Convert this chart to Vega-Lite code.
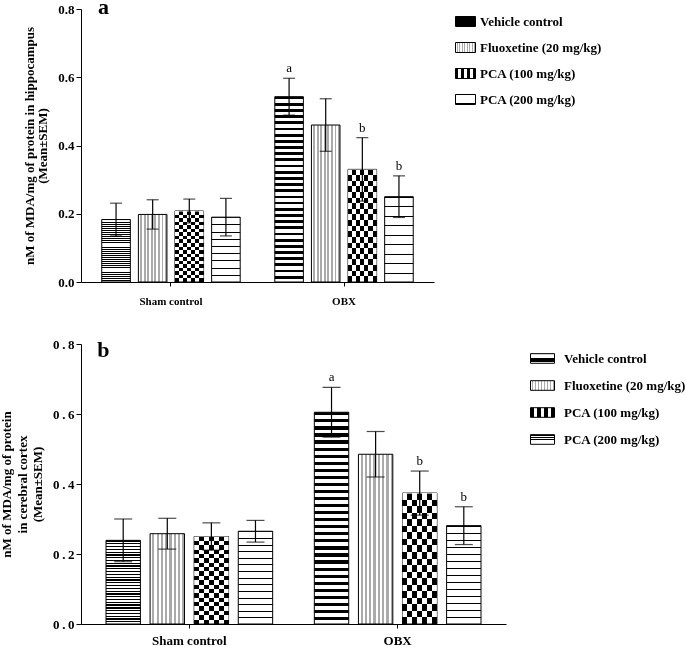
{
  "$schema": "https://vega.github.io/schema/vega-lite/v6.json",
  "padding": {"left": 0, "top": -4, "right": 0, "bottom": 0},
  "background": "white",
  "config": {"view": {"stroke": null}, "font": "Liberation Serif"},
  "datasets": {
    "a": [
      {"group": "Sham control", "trt": "Vehicle control", "mean": 0.183, "lo": 0.135, "hi": 0.231, "sig": ""},
      {"group": "Sham control", "trt": "Fluoxetine (20 mg/kg)", "mean": 0.198, "lo": 0.155, "hi": 0.241, "sig": ""},
      {"group": "Sham control", "trt": "PCA (100 mg/kg)", "mean": 0.208, "lo": 0.173, "hi": 0.243, "sig": ""},
      {"group": "Sham control", "trt": "PCA (200 mg/kg)", "mean": 0.190, "lo": 0.135, "hi": 0.245, "sig": ""},
      {"group": "OBX", "trt": "Vehicle control", "mean": 0.543, "lo": 0.489, "hi": 0.597, "sig": "a"},
      {"group": "OBX", "trt": "Fluoxetine (20 mg/kg)", "mean": 0.460, "lo": 0.383, "hi": 0.537, "sig": ""},
      {"group": "OBX", "trt": "PCA (100 mg/kg)", "mean": 0.330, "lo": 0.237, "hi": 0.423, "sig": "b"},
      {"group": "OBX", "trt": "PCA (200 mg/kg)", "mean": 0.250, "lo": 0.189, "hi": 0.311, "sig": "b"}
    ],
    "b": [
      {"group": "Sham control", "trt": "Vehicle control", "mean": 0.239, "lo": 0.178, "hi": 0.300, "sig": ""},
      {"group": "Sham control", "trt": "Fluoxetine (20 mg/kg)", "mean": 0.258, "lo": 0.214, "hi": 0.302, "sig": ""},
      {"group": "Sham control", "trt": "PCA (100 mg/kg)", "mean": 0.250, "lo": 0.211, "hi": 0.289, "sig": ""},
      {"group": "Sham control", "trt": "PCA (200 mg/kg)", "mean": 0.265, "lo": 0.234, "hi": 0.296, "sig": ""},
      {"group": "OBX", "trt": "Vehicle control", "mean": 0.605, "lo": 0.534, "hi": 0.676, "sig": "a"},
      {"group": "OBX", "trt": "Fluoxetine (20 mg/kg)", "mean": 0.485, "lo": 0.420, "hi": 0.550, "sig": ""},
      {"group": "OBX", "trt": "PCA (100 mg/kg)", "mean": 0.374, "lo": 0.311, "hi": 0.437, "sig": "b"},
      {"group": "OBX", "trt": "PCA (200 mg/kg)", "mean": 0.281, "lo": 0.227, "hi": 0.335, "sig": "b"}
    ]
  },
  "vconcat": [
    {
      "data": {"name": "a"},
      "width": 353,
      "height": 273,
      "encoding": {
        "x": {"field": "group", "type": "nominal", "scale": {"domain": ["Sham control", "OBX"], "paddingInner": 0.2, "paddingOuter": 0.12},
          "axis": {"title": null, "labelAngle": 0, "labelFont": "Liberation Serif", "labelFontWeight": "bold", "labelFontSize": 11, "labelColor": "black", "tickSize": 4, "labelPadding": 9, "domainColor": "black", "tickColor": "black"}},
        "xOffset": {"field": "trt", "type": "nominal", "scale": {"domain": ["Vehicle control", "Fluoxetine (20 mg/kg)", "PCA (100 mg/kg)", "PCA (200 mg/kg)"], "paddingInner": 0.22}},
        "y": {"field": "mean", "type": "quantitative", "scale": {"domain": [0, 0.8], "nice": false},
          "axis": {"title": ["nM of MDA/mg of protein in hippocampus", "(Mean±SEM)"], "titleFont": "Liberation Serif", "titleFontWeight": "bold", "titleFontSize": 13, "titleLineHeight": 13, "titlePadding": 8, "titleColor": "black",
            "values": [0, 0.2, 0.4, 0.6, 0.8], "format": ".1f", "labelFont": "Liberation Serif", "labelFontWeight": "bold", "labelFontSize": 13, "labelColor": "black", "tickSize": 5, "labelPadding": 2, "grid": false, "domainColor": "black", "tickColor": "black"}}
      },
      "layer": [
        {
          "mark": {"type": "bar", "stroke": "black", "strokeWidth": 1},
          "encoding": {
            "fill": {"field": "trt", "type": "nominal",
              "scale": {"domain": ["Vehicle control", "Fluoxetine (20 mg/kg)", "PCA (100 mg/kg)", "PCA (200 mg/kg)"],
                "range": [
                  {"expr": "{gradient:'linear',x1:0,y1:0,x2:0,y2:1,stops:[{offset:0,color:'#000'},{offset:0.015,color:'#000'},{offset:0.015,color:'#fff'},{offset:0.0333,color:'#fff'},{offset:0.0333,color:'#000'},{offset:0.0483,color:'#000'},{offset:0.0483,color:'#fff'},{offset:0.0667,color:'#fff'},{offset:0.0667,color:'#000'},{offset:0.0817,color:'#000'},{offset:0.0817,color:'#fff'},{offset:0.1,color:'#fff'},{offset:0.1,color:'#000'},{offset:0.115,color:'#000'},{offset:0.115,color:'#fff'},{offset:0.1333,color:'#fff'},{offset:0.1333,color:'#000'},{offset:0.1483,color:'#000'},{offset:0.1483,color:'#fff'},{offset:0.1667,color:'#fff'},{offset:0.1667,color:'#000'},{offset:0.1817,color:'#000'},{offset:0.1817,color:'#fff'},{offset:0.2,color:'#fff'},{offset:0.2,color:'#000'},{offset:0.215,color:'#000'},{offset:0.215,color:'#fff'},{offset:0.2333,color:'#fff'},{offset:0.2333,color:'#000'},{offset:0.2483,color:'#000'},{offset:0.2483,color:'#fff'},{offset:0.2667,color:'#fff'},{offset:0.2667,color:'#000'},{offset:0.2817,color:'#000'},{offset:0.2817,color:'#fff'},{offset:0.3,color:'#fff'},{offset:0.3,color:'#000'},{offset:0.315,color:'#000'},{offset:0.315,color:'#fff'},{offset:0.3333,color:'#fff'},{offset:0.3333,color:'#000'},{offset:0.3483,color:'#000'},{offset:0.3483,color:'#fff'},{offset:0.3667,color:'#fff'},{offset:0.3667,color:'#000'},{offset:0.3817,color:'#000'},{offset:0.3817,color:'#fff'},{offset:0.4,color:'#fff'},{offset:0.4,color:'#000'},{offset:0.415,color:'#000'},{offset:0.415,color:'#fff'},{offset:0.4333,color:'#fff'},{offset:0.4333,color:'#000'},{offset:0.4483,color:'#000'},{offset:0.4483,color:'#fff'},{offset:0.4667,color:'#fff'},{offset:0.4667,color:'#000'},{offset:0.4817,color:'#000'},{offset:0.4817,color:'#fff'},{offset:0.5,color:'#fff'},{offset:0.5,color:'#000'},{offset:0.515,color:'#000'},{offset:0.515,color:'#fff'},{offset:0.5333,color:'#fff'},{offset:0.5333,color:'#000'},{offset:0.5483,color:'#000'},{offset:0.5483,color:'#fff'},{offset:0.5667,color:'#fff'},{offset:0.5667,color:'#000'},{offset:0.5817,color:'#000'},{offset:0.5817,color:'#fff'},{offset:0.6,color:'#fff'},{offset:0.6,color:'#000'},{offset:0.615,color:'#000'},{offset:0.615,color:'#fff'},{offset:0.6333,color:'#fff'},{offset:0.6333,color:'#000'},{offset:0.6483,color:'#000'},{offset:0.6483,color:'#fff'},{offset:0.6667,color:'#fff'},{offset:0.6667,color:'#000'},{offset:0.6817,color:'#000'},{offset:0.6817,color:'#fff'},{offset:0.7,color:'#fff'},{offset:0.7,color:'#000'},{offset:0.715,color:'#000'},{offset:0.715,color:'#fff'},{offset:0.7333,color:'#fff'},{offset:0.7333,color:'#000'},{offset:0.7483,color:'#000'},{offset:0.7483,color:'#fff'},{offset:0.7667,color:'#fff'},{offset:0.7667,color:'#000'},{offset:0.7817,color:'#000'},{offset:0.7817,color:'#fff'},{offset:0.8,color:'#fff'},{offset:0.8,color:'#000'},{offset:0.815,color:'#000'},{offset:0.815,color:'#fff'},{offset:0.8333,color:'#fff'},{offset:0.8333,color:'#000'},{offset:0.8483,color:'#000'},{offset:0.8483,color:'#fff'},{offset:0.8667,color:'#fff'},{offset:0.8667,color:'#000'},{offset:0.8817,color:'#000'},{offset:0.8817,color:'#fff'},{offset:0.9,color:'#fff'},{offset:0.9,color:'#000'},{offset:0.915,color:'#000'},{offset:0.915,color:'#fff'},{offset:0.9333,color:'#fff'},{offset:0.9333,color:'#000'},{offset:0.9483,color:'#000'},{offset:0.9483,color:'#fff'},{offset:0.9667,color:'#fff'},{offset:0.9667,color:'#000'},{offset:0.9817,color:'#000'},{offset:0.9817,color:'#fff'},{offset:1,color:'#fff'}]}"},
                  {"expr": "{gradient:'linear',x1:0,y1:0,x2:1,y2:0,stops:[{offset:0,color:'#fff'},{offset:0.0625,color:'#fff'},{offset:0.0625,color:'#aaa'},{offset:0.125,color:'#aaa'},{offset:0.125,color:'#fff'},{offset:0.1875,color:'#fff'},{offset:0.1875,color:'#aaa'},{offset:0.25,color:'#aaa'},{offset:0.25,color:'#fff'},{offset:0.3125,color:'#fff'},{offset:0.3125,color:'#aaa'},{offset:0.375,color:'#aaa'},{offset:0.375,color:'#fff'},{offset:0.4375,color:'#fff'},{offset:0.4375,color:'#aaa'},{offset:0.5,color:'#aaa'},{offset:0.5,color:'#fff'},{offset:0.5625,color:'#fff'},{offset:0.5625,color:'#aaa'},{offset:0.625,color:'#aaa'},{offset:0.625,color:'#fff'},{offset:0.6875,color:'#fff'},{offset:0.6875,color:'#aaa'},{offset:0.75,color:'#aaa'},{offset:0.75,color:'#fff'},{offset:0.8125,color:'#fff'},{offset:0.8125,color:'#aaa'},{offset:0.875,color:'#aaa'},{offset:0.875,color:'#fff'},{offset:0.9375,color:'#fff'},{offset:0.9375,color:'#aaa'},{offset:1,color:'#aaa'}]}"},
                  {"expr": "{gradient:'linear',x1:0,y1:0,x2:1,y2:0,stops:[{offset:0,color:'#000'},{offset:0.1429,color:'#000'},{offset:0.1429,color:'#fff'},{offset:0.2857,color:'#fff'},{offset:0.2857,color:'#000'},{offset:0.4286,color:'#000'},{offset:0.4286,color:'#fff'},{offset:0.5714,color:'#fff'},{offset:0.5714,color:'#000'},{offset:0.7143,color:'#000'},{offset:0.7143,color:'#fff'},{offset:0.8571,color:'#fff'},{offset:0.8571,color:'#000'},{offset:1,color:'#000'}]}"},
                  {"expr": "{gradient:'linear',x1:0,y1:0,x2:0,y2:1,stops:[{offset:0,color:'#000'},{offset:0.015,color:'#000'},{offset:0.015,color:'#fff'},{offset:0.1111,color:'#fff'},{offset:0.1111,color:'#000'},{offset:0.1261,color:'#000'},{offset:0.1261,color:'#fff'},{offset:0.2222,color:'#fff'},{offset:0.2222,color:'#000'},{offset:0.2372,color:'#000'},{offset:0.2372,color:'#fff'},{offset:0.3333,color:'#fff'},{offset:0.3333,color:'#000'},{offset:0.3483,color:'#000'},{offset:0.3483,color:'#fff'},{offset:0.4444,color:'#fff'},{offset:0.4444,color:'#000'},{offset:0.4594,color:'#000'},{offset:0.4594,color:'#fff'},{offset:0.5556,color:'#fff'},{offset:0.5556,color:'#000'},{offset:0.5706,color:'#000'},{offset:0.5706,color:'#fff'},{offset:0.6667,color:'#fff'},{offset:0.6667,color:'#000'},{offset:0.6817,color:'#000'},{offset:0.6817,color:'#fff'},{offset:0.7778,color:'#fff'},{offset:0.7778,color:'#000'},{offset:0.7928,color:'#000'},{offset:0.7928,color:'#fff'},{offset:0.8889,color:'#fff'},{offset:0.8889,color:'#000'},{offset:0.9039,color:'#000'},{offset:0.9039,color:'#fff'},{offset:1,color:'#fff'}]}"}
                ]},
              "legend": {"title": null, "orient": "none", "legendX": 374, "legendY": 2, "padding": 0, "symbolType": "M-1,-0.5H1V0.5H-1Z", "symbolSize": 400, "symbolStrokeColor": "black", "symbolStrokeWidth": 1, "symbolOpacity": 1, "rowPadding": 8, "labelOffset": 4, "labelFont": "Liberation Serif", "labelFontWeight": "bold", "labelFontSize": 13, "labelColor": "black", "labelLimit": 300}}
          }
        },
        {
          "transform": [{"filter": "datum.trt === 'PCA (100 mg/kg)'"}],
          "mark": {"type": "bar", "blend": "difference", "fill": {"gradient": "linear", "x1": 0, "y1": 0, "x2": 0, "y2": 1, "stops": [
            {"offset": 0, "color": "#fff"}, {"offset": 0.05, "color": "#fff"}, {"offset": 0.05, "color": "rgba(255,255,255,0)"}, {"offset": 0.1, "color": "rgba(255,255,255,0)"},
            {"offset": 0.1, "color": "#fff"}, {"offset": 0.15, "color": "#fff"}, {"offset": 0.15, "color": "rgba(255,255,255,0)"}, {"offset": 0.2, "color": "rgba(255,255,255,0)"},
            {"offset": 0.2, "color": "#fff"}, {"offset": 0.25, "color": "#fff"}, {"offset": 0.25, "color": "rgba(255,255,255,0)"}, {"offset": 0.3, "color": "rgba(255,255,255,0)"},
            {"offset": 0.3, "color": "#fff"}, {"offset": 0.35, "color": "#fff"}, {"offset": 0.35, "color": "rgba(255,255,255,0)"}, {"offset": 0.4, "color": "rgba(255,255,255,0)"},
            {"offset": 0.4, "color": "#fff"}, {"offset": 0.45, "color": "#fff"}, {"offset": 0.45, "color": "rgba(255,255,255,0)"}, {"offset": 0.5, "color": "rgba(255,255,255,0)"},
            {"offset": 0.5, "color": "#fff"}, {"offset": 0.55, "color": "#fff"}, {"offset": 0.55, "color": "rgba(255,255,255,0)"}, {"offset": 0.6, "color": "rgba(255,255,255,0)"},
            {"offset": 0.6, "color": "#fff"}, {"offset": 0.65, "color": "#fff"}, {"offset": 0.65, "color": "rgba(255,255,255,0)"}, {"offset": 0.7, "color": "rgba(255,255,255,0)"},
            {"offset": 0.7, "color": "#fff"}, {"offset": 0.75, "color": "#fff"}, {"offset": 0.75, "color": "rgba(255,255,255,0)"}, {"offset": 0.8, "color": "rgba(255,255,255,0)"},
            {"offset": 0.8, "color": "#fff"}, {"offset": 0.85, "color": "#fff"}, {"offset": 0.85, "color": "rgba(255,255,255,0)"}, {"offset": 0.9, "color": "rgba(255,255,255,0)"},
            {"offset": 0.9, "color": "#fff"}, {"offset": 0.95, "color": "#fff"}, {"offset": 0.95, "color": "rgba(255,255,255,0)"}, {"offset": 1, "color": "rgba(255,255,255,0)"}
          ]}}
        },
        {"mark": {"type": "rule", "color": "black", "strokeWidth": 1.2}, "encoding": {"y": {"field": "lo", "type": "quantitative"}, "y2": {"field": "hi"}}},
        {"mark": {"type": "tick", "color": "black", "thickness": 1.2, "size": 12}, "encoding": {"y": {"field": "hi", "type": "quantitative"}}},
        {"mark": {"type": "tick", "color": "black", "thickness": 1.2, "size": 12}, "encoding": {"y": {"field": "lo", "type": "quantitative"}}},
        {"transform": [{"filter": "datum.sig !== ''"}], "mark": {"type": "text", "baseline": "alphabetic", "dy": -6, "fontSize": 13, "font": "Liberation Serif", "color": "black"}, "encoding": {"y": {"field": "hi", "type": "quantitative"}, "text": {"field": "sig"}}},
        {"transform": [{"filter": "datum.group === 'Sham control' && datum.trt === 'Vehicle control'"}], "mark": {"type": "text", "align": "left", "baseline": "alphabetic", "dx": -18, "dy": 5, "fontSize": 22, "fontWeight": "bold", "font": "Liberation Serif", "color": "black"},
          "encoding": {"y": {"datum": 0.8}, "text": {"value": "a"}}}
      ]
    },
    {
      "data": {"name": "b"},
      "width": 425,
      "height": 280,
      "encoding": {
        "x": {"field": "group", "type": "nominal", "scale": {"domain": ["Sham control", "OBX"], "paddingInner": 0.2, "paddingOuter": 0.12},
          "axis": {"title": null, "labelAngle": 0, "labelFont": "Liberation Serif", "labelFontWeight": "bold", "labelFontSize": 13, "labelColor": "black", "tickSize": 4, "labelPadding": 6, "domainColor": "black", "tickColor": "black"}},
        "xOffset": {"field": "trt", "type": "nominal", "scale": {"domain": ["Vehicle control", "Fluoxetine (20 mg/kg)", "PCA (100 mg/kg)", "PCA (200 mg/kg)"], "paddingInner": 0.22}},
        "y": {"field": "mean", "type": "quantitative", "scale": {"domain": [0, 0.8], "nice": false},
          "axis": {"title": ["nM of MDA/mg of protein", "in cerebral cortex", "(Mean±SEM)"], "titleFont": "Liberation Serif", "titleFontWeight": "bold", "titleFontSize": 13, "titleLineHeight": 15.5, "titlePadding": 8, "titleColor": "black",
            "values": [0, 0.2, 0.4, 0.6, 0.8], "labelExpr": "replace(format(datum.value, '.1f'), '.', '\u2009.\u2009')", "labelFont": "Liberation Serif", "labelFontWeight": "bold", "labelFontSize": 13, "labelColor": "black", "tickSize": 5, "labelPadding": 2, "grid": false, "domainColor": "black", "tickColor": "black"}}
      },
      "layer": [
        {
          "mark": {"type": "bar", "stroke": "black", "strokeWidth": 1},
          "encoding": {
            "fill": {"field": "trt", "type": "nominal",
              "scale": {"domain": ["Vehicle control", "Fluoxetine (20 mg/kg)", "PCA (100 mg/kg)", "PCA (200 mg/kg)"],
                "range": [
                  {"expr": "{gradient:'linear',x1:0,y1:0,x2:0,y2:1,stops:[{offset:0,color:'#000'},{offset:0.015,color:'#000'},{offset:0.015,color:'#fff'},{offset:0.0333,color:'#fff'},{offset:0.0333,color:'#000'},{offset:0.0483,color:'#000'},{offset:0.0483,color:'#fff'},{offset:0.0667,color:'#fff'},{offset:0.0667,color:'#000'},{offset:0.0817,color:'#000'},{offset:0.0817,color:'#fff'},{offset:0.1,color:'#fff'},{offset:0.1,color:'#000'},{offset:0.115,color:'#000'},{offset:0.115,color:'#fff'},{offset:0.1333,color:'#fff'},{offset:0.1333,color:'#000'},{offset:0.1483,color:'#000'},{offset:0.1483,color:'#fff'},{offset:0.1667,color:'#fff'},{offset:0.1667,color:'#000'},{offset:0.1817,color:'#000'},{offset:0.1817,color:'#fff'},{offset:0.2,color:'#fff'},{offset:0.2,color:'#000'},{offset:0.215,color:'#000'},{offset:0.215,color:'#fff'},{offset:0.2333,color:'#fff'},{offset:0.2333,color:'#000'},{offset:0.2483,color:'#000'},{offset:0.2483,color:'#fff'},{offset:0.2667,color:'#fff'},{offset:0.2667,color:'#000'},{offset:0.2817,color:'#000'},{offset:0.2817,color:'#fff'},{offset:0.3,color:'#fff'},{offset:0.3,color:'#000'},{offset:0.315,color:'#000'},{offset:0.315,color:'#fff'},{offset:0.3333,color:'#fff'},{offset:0.3333,color:'#000'},{offset:0.3483,color:'#000'},{offset:0.3483,color:'#fff'},{offset:0.3667,color:'#fff'},{offset:0.3667,color:'#000'},{offset:0.3817,color:'#000'},{offset:0.3817,color:'#fff'},{offset:0.4,color:'#fff'},{offset:0.4,color:'#000'},{offset:0.415,color:'#000'},{offset:0.415,color:'#fff'},{offset:0.4333,color:'#fff'},{offset:0.4333,color:'#000'},{offset:0.4483,color:'#000'},{offset:0.4483,color:'#fff'},{offset:0.4667,color:'#fff'},{offset:0.4667,color:'#000'},{offset:0.4817,color:'#000'},{offset:0.4817,color:'#fff'},{offset:0.5,color:'#fff'},{offset:0.5,color:'#000'},{offset:0.515,color:'#000'},{offset:0.515,color:'#fff'},{offset:0.5333,color:'#fff'},{offset:0.5333,color:'#000'},{offset:0.5483,color:'#000'},{offset:0.5483,color:'#fff'},{offset:0.5667,color:'#fff'},{offset:0.5667,color:'#000'},{offset:0.5817,color:'#000'},{offset:0.5817,color:'#fff'},{offset:0.6,color:'#fff'},{offset:0.6,color:'#000'},{offset:0.615,color:'#000'},{offset:0.615,color:'#fff'},{offset:0.6333,color:'#fff'},{offset:0.6333,color:'#000'},{offset:0.6483,color:'#000'},{offset:0.6483,color:'#fff'},{offset:0.6667,color:'#fff'},{offset:0.6667,color:'#000'},{offset:0.6817,color:'#000'},{offset:0.6817,color:'#fff'},{offset:0.7,color:'#fff'},{offset:0.7,color:'#000'},{offset:0.715,color:'#000'},{offset:0.715,color:'#fff'},{offset:0.7333,color:'#fff'},{offset:0.7333,color:'#000'},{offset:0.7483,color:'#000'},{offset:0.7483,color:'#fff'},{offset:0.7667,color:'#fff'},{offset:0.7667,color:'#000'},{offset:0.7817,color:'#000'},{offset:0.7817,color:'#fff'},{offset:0.8,color:'#fff'},{offset:0.8,color:'#000'},{offset:0.815,color:'#000'},{offset:0.815,color:'#fff'},{offset:0.8333,color:'#fff'},{offset:0.8333,color:'#000'},{offset:0.8483,color:'#000'},{offset:0.8483,color:'#fff'},{offset:0.8667,color:'#fff'},{offset:0.8667,color:'#000'},{offset:0.8817,color:'#000'},{offset:0.8817,color:'#fff'},{offset:0.9,color:'#fff'},{offset:0.9,color:'#000'},{offset:0.915,color:'#000'},{offset:0.915,color:'#fff'},{offset:0.9333,color:'#fff'},{offset:0.9333,color:'#000'},{offset:0.9483,color:'#000'},{offset:0.9483,color:'#fff'},{offset:0.9667,color:'#fff'},{offset:0.9667,color:'#000'},{offset:0.9817,color:'#000'},{offset:0.9817,color:'#fff'},{offset:1,color:'#fff'}]}"},
                  {"expr": "{gradient:'linear',x1:0,y1:0,x2:1,y2:0,stops:[{offset:0,color:'#fff'},{offset:0.0625,color:'#fff'},{offset:0.0625,color:'#aaa'},{offset:0.125,color:'#aaa'},{offset:0.125,color:'#fff'},{offset:0.1875,color:'#fff'},{offset:0.1875,color:'#aaa'},{offset:0.25,color:'#aaa'},{offset:0.25,color:'#fff'},{offset:0.3125,color:'#fff'},{offset:0.3125,color:'#aaa'},{offset:0.375,color:'#aaa'},{offset:0.375,color:'#fff'},{offset:0.4375,color:'#fff'},{offset:0.4375,color:'#aaa'},{offset:0.5,color:'#aaa'},{offset:0.5,color:'#fff'},{offset:0.5625,color:'#fff'},{offset:0.5625,color:'#aaa'},{offset:0.625,color:'#aaa'},{offset:0.625,color:'#fff'},{offset:0.6875,color:'#fff'},{offset:0.6875,color:'#aaa'},{offset:0.75,color:'#aaa'},{offset:0.75,color:'#fff'},{offset:0.8125,color:'#fff'},{offset:0.8125,color:'#aaa'},{offset:0.875,color:'#aaa'},{offset:0.875,color:'#fff'},{offset:0.9375,color:'#fff'},{offset:0.9375,color:'#aaa'},{offset:1,color:'#aaa'}]}"},
                  {"expr": "{gradient:'linear',x1:0,y1:0,x2:1,y2:0,stops:[{offset:0,color:'#000'},{offset:0.1429,color:'#000'},{offset:0.1429,color:'#fff'},{offset:0.2857,color:'#fff'},{offset:0.2857,color:'#000'},{offset:0.4286,color:'#000'},{offset:0.4286,color:'#fff'},{offset:0.5714,color:'#fff'},{offset:0.5714,color:'#000'},{offset:0.7143,color:'#000'},{offset:0.7143,color:'#fff'},{offset:0.8571,color:'#fff'},{offset:0.8571,color:'#000'},{offset:1,color:'#000'}]}"},
                  {"expr": "{gradient:'linear',x1:0,y1:0,x2:0,y2:1,stops:[{offset:0,color:'#000'},{offset:0.012,color:'#000'},{offset:0.012,color:'#fff'},{offset:0.0714,color:'#fff'},{offset:0.0714,color:'#000'},{offset:0.0834,color:'#000'},{offset:0.0834,color:'#fff'},{offset:0.1429,color:'#fff'},{offset:0.1429,color:'#000'},{offset:0.1549,color:'#000'},{offset:0.1549,color:'#fff'},{offset:0.2143,color:'#fff'},{offset:0.2143,color:'#000'},{offset:0.2263,color:'#000'},{offset:0.2263,color:'#fff'},{offset:0.2857,color:'#fff'},{offset:0.2857,color:'#000'},{offset:0.2977,color:'#000'},{offset:0.2977,color:'#fff'},{offset:0.3571,color:'#fff'},{offset:0.3571,color:'#000'},{offset:0.3691,color:'#000'},{offset:0.3691,color:'#fff'},{offset:0.4286,color:'#fff'},{offset:0.4286,color:'#000'},{offset:0.4406,color:'#000'},{offset:0.4406,color:'#fff'},{offset:0.5,color:'#fff'},{offset:0.5,color:'#000'},{offset:0.512,color:'#000'},{offset:0.512,color:'#fff'},{offset:0.5714,color:'#fff'},{offset:0.5714,color:'#000'},{offset:0.5834,color:'#000'},{offset:0.5834,color:'#fff'},{offset:0.6429,color:'#fff'},{offset:0.6429,color:'#000'},{offset:0.6549,color:'#000'},{offset:0.6549,color:'#fff'},{offset:0.7143,color:'#fff'},{offset:0.7143,color:'#000'},{offset:0.7263,color:'#000'},{offset:0.7263,color:'#fff'},{offset:0.7857,color:'#fff'},{offset:0.7857,color:'#000'},{offset:0.7977,color:'#000'},{offset:0.7977,color:'#fff'},{offset:0.8571,color:'#fff'},{offset:0.8571,color:'#000'},{offset:0.8691,color:'#000'},{offset:0.8691,color:'#fff'},{offset:0.9286,color:'#fff'},{offset:0.9286,color:'#000'},{offset:0.9406,color:'#000'},{offset:0.9406,color:'#fff'},{offset:1,color:'#fff'}]}"}
                ]},
              "legend": {"title": null, "orient": "none", "legendX": 449, "legendY": 2, "padding": 0, "symbolType": "M-1,-0.4H1V0.4H-1Z", "symbolSize": 576, "symbolStrokeColor": "black", "symbolStrokeWidth": 1, "symbolOpacity": 1, "rowPadding": 7, "labelOffset": 9, "labelFont": "Liberation Serif", "labelFontWeight": "bold", "labelFontSize": 13, "labelColor": "black", "labelLimit": 300}}
          }
        },
        {
          "transform": [{"filter": "datum.trt === 'PCA (100 mg/kg)'"}],
          "mark": {"type": "bar", "blend": "difference", "fill": {"gradient": "linear", "x1": 0, "y1": 0, "x2": 0, "y2": 1, "stops": [
            {"offset": 0, "color": "#fff"}, {"offset": 0.05, "color": "#fff"}, {"offset": 0.05, "color": "rgba(255,255,255,0)"}, {"offset": 0.1, "color": "rgba(255,255,255,0)"},
            {"offset": 0.1, "color": "#fff"}, {"offset": 0.15, "color": "#fff"}, {"offset": 0.15, "color": "rgba(255,255,255,0)"}, {"offset": 0.2, "color": "rgba(255,255,255,0)"},
            {"offset": 0.2, "color": "#fff"}, {"offset": 0.25, "color": "#fff"}, {"offset": 0.25, "color": "rgba(255,255,255,0)"}, {"offset": 0.3, "color": "rgba(255,255,255,0)"},
            {"offset": 0.3, "color": "#fff"}, {"offset": 0.35, "color": "#fff"}, {"offset": 0.35, "color": "rgba(255,255,255,0)"}, {"offset": 0.4, "color": "rgba(255,255,255,0)"},
            {"offset": 0.4, "color": "#fff"}, {"offset": 0.45, "color": "#fff"}, {"offset": 0.45, "color": "rgba(255,255,255,0)"}, {"offset": 0.5, "color": "rgba(255,255,255,0)"},
            {"offset": 0.5, "color": "#fff"}, {"offset": 0.55, "color": "#fff"}, {"offset": 0.55, "color": "rgba(255,255,255,0)"}, {"offset": 0.6, "color": "rgba(255,255,255,0)"},
            {"offset": 0.6, "color": "#fff"}, {"offset": 0.65, "color": "#fff"}, {"offset": 0.65, "color": "rgba(255,255,255,0)"}, {"offset": 0.7, "color": "rgba(255,255,255,0)"},
            {"offset": 0.7, "color": "#fff"}, {"offset": 0.75, "color": "#fff"}, {"offset": 0.75, "color": "rgba(255,255,255,0)"}, {"offset": 0.8, "color": "rgba(255,255,255,0)"},
            {"offset": 0.8, "color": "#fff"}, {"offset": 0.85, "color": "#fff"}, {"offset": 0.85, "color": "rgba(255,255,255,0)"}, {"offset": 0.9, "color": "rgba(255,255,255,0)"},
            {"offset": 0.9, "color": "#fff"}, {"offset": 0.95, "color": "#fff"}, {"offset": 0.95, "color": "rgba(255,255,255,0)"}, {"offset": 1, "color": "rgba(255,255,255,0)"}
          ]}}
        },
        {"mark": {"type": "rule", "color": "black", "strokeWidth": 1.2}, "encoding": {"y": {"field": "lo", "type": "quantitative"}, "y2": {"field": "hi"}}},
        {"mark": {"type": "tick", "color": "black", "thickness": 1.2, "size": 18}, "encoding": {"y": {"field": "hi", "type": "quantitative"}}},
        {"mark": {"type": "tick", "color": "black", "thickness": 1.2, "size": 18}, "encoding": {"y": {"field": "lo", "type": "quantitative"}}},
        {"transform": [{"filter": "datum.sig !== ''"}], "mark": {"type": "text", "baseline": "alphabetic", "dy": -6, "fontSize": 13, "font": "Liberation Serif", "color": "black"}, "encoding": {"y": {"field": "hi", "type": "quantitative"}, "text": {"field": "sig"}}},
        {"transform": [{"filter": "datum.group === 'Sham control' && datum.trt === 'Vehicle control'"}], "mark": {"type": "text", "align": "left", "baseline": "alphabetic", "dx": -26, "dy": 13, "fontSize": 22, "fontWeight": "bold", "font": "Liberation Serif", "color": "black"},
          "encoding": {"y": {"datum": 0.8}, "text": {"value": "b"}}}
      ]
    }
  ],
  "spacing": 32,
  "resolve": {"scale": {"fill": "independent", "xOffset": "independent"}, "legend": {"fill": "independent"}}
}
